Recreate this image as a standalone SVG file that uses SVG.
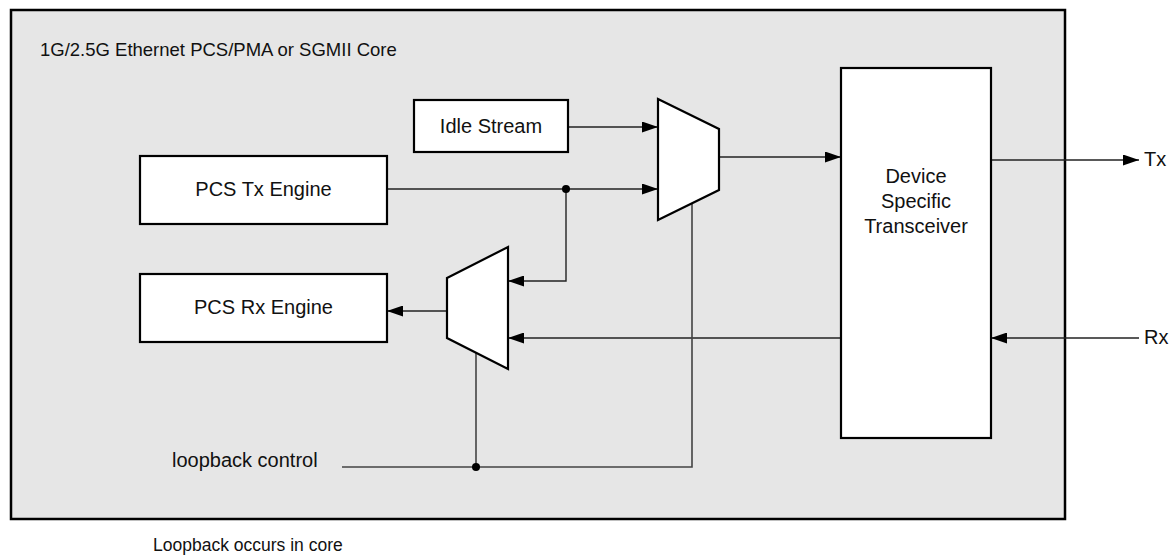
<svg xmlns="http://www.w3.org/2000/svg" width="1173" height="559" viewBox="0 0 1173 559">
<style>
.box{fill:#fff;stroke:#000;stroke-width:2.2}
.lbl{font-family:"Liberation Sans",Arial,sans-serif;font-size:20px;fill:#111}
.ttl{font-family:"Liberation Sans",Arial,sans-serif;font-size:18.5px;fill:#111}
.cap{font-family:"Liberation Sans",Arial,sans-serif;font-size:17.5px;fill:#111}
.c{fill:none;stroke:#222;stroke-width:1.4}
.ctl{fill:none;stroke:#444;stroke-width:1.6}
.dot{fill:#000}
</style>
<defs>
<marker id="ah" markerUnits="userSpaceOnUse" markerWidth="16" markerHeight="11" refX="16" refY="5.5" orient="auto">
<path d="M0,0 L16,5.5 L0,11 z" fill="#000"/>
</marker>
</defs>
<rect width="1173" height="559" fill="#fff"/>
<g id="core">
<rect x="11" y="10" width="1054" height="509" fill="#e6e6e6" stroke="#000" stroke-width="2.5"/>
<text class="ttl" x="40" y="56">1G/2.5G Ethernet PCS/PMA or SGMII Core</text>
</g>
<g id="connectors">
<path class="c" d="M568,127 H658" marker-end="url(#ah)"/>
<path class="c" d="M387,189 H658" marker-end="url(#ah)"/>
<path class="c" d="M566,189 V281 H508" marker-end="url(#ah)"/>
<path class="c" d="M719,157 H841" marker-end="url(#ah)"/>
<path class="c" d="M991,160 H1139" marker-end="url(#ah)"/>
<path class="c" d="M1139,338 H991" marker-end="url(#ah)"/>
<path class="c" d="M841,338 H508" marker-end="url(#ah)"/>
<path class="c" d="M447,311 H387" marker-end="url(#ah)"/>
<path class="ctl" d="M342,467 H692 V203"/>
<path class="ctl" d="M476,467 V353"/>
<circle class="dot" cx="566" cy="189" r="4"/>
<circle class="dot" cx="476" cy="467" r="4"/>
</g>
<g id="idle-stream">
<rect class="box" x="414" y="100" width="154" height="52"/>
<text class="lbl" x="491" y="133" text-anchor="middle">Idle Stream</text>
</g>
<g id="pcs-tx">
<rect class="box" x="140" y="156" width="247" height="68"/>
<text class="lbl" x="263.5" y="196" text-anchor="middle">PCS Tx Engine</text>
</g>
<g id="pcs-rx">
<rect class="box" x="140" y="274" width="247" height="68"/>
<text class="lbl" x="263.5" y="314" text-anchor="middle">PCS Rx Engine</text>
</g>
<g id="tx-mux">
<polygon class="box" points="658,99 719,129 719,190 658,220"/>
</g>
<g id="rx-mux">
<polygon class="box" points="447,278 508,247 508,369 447,338"/>
</g>
<g id="transceiver">
<rect class="box" x="841" y="68" width="150" height="370"/>
<text class="lbl" text-anchor="middle"><tspan x="916" y="183">Device</tspan><tspan x="916" y="208">Specific</tspan><tspan x="916" y="233">Transceiver</tspan></text>
</g>
<g id="tx-port">
<text class="lbl" x="1144" y="166">Tx</text>
</g>
<g id="rx-port">
<text class="lbl" x="1144" y="344">Rx</text>
</g>
<g id="loopback-control">
<text class="lbl" x="172" y="467">loopback control</text>
</g>
<text class="cap" x="153" y="551">Loopback occurs in core</text>
</svg>
